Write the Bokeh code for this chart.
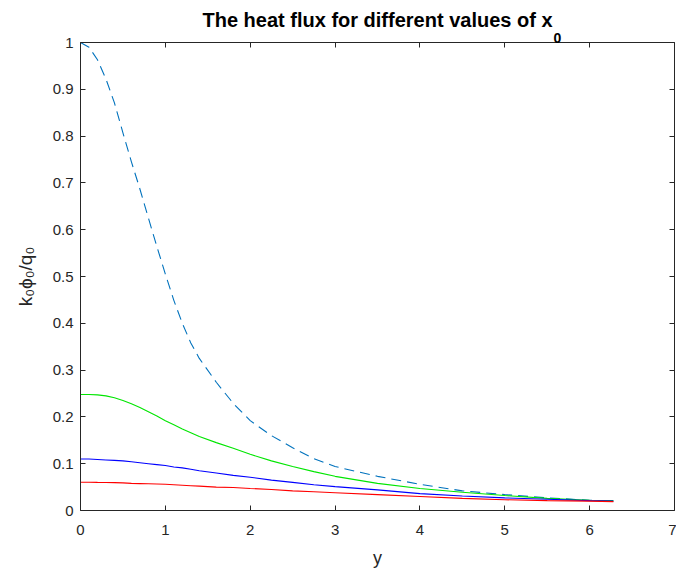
from bokeh.plotting import figure
from bokeh.models import LinearAxis, FixedTicker, Range1d, Title
from bokeh.embed import file_html
from bokeh.resources import INLINE

# y positions along the boundary
y_pos = [0, 0.1, 0.2, 0.3, 0.4, 0.5, 0.6, 0.7, 0.8, 0.9, 1.0, 1.1, 1.2, 1.3, 1.4,
         1.6, 1.8, 2.0, 2.25, 2.5, 2.75, 3.0, 3.5, 4.0, 4.5, 5.0, 5.5, 6.0, 6.28]

# heat flux curves for different x0
flux_dashed = [1.0, 0.99, 0.963, 0.922, 0.871, 0.807, 0.745, 0.687, 0.625, 0.564,
               0.505, 0.449, 0.400, 0.358, 0.325, 0.274, 0.229, 0.192, 0.160,
               0.134, 0.111, 0.094, 0.073, 0.056, 0.042, 0.034, 0.027, 0.022, 0.020]
flux_green = [0.248, 0.248, 0.247, 0.245, 0.241, 0.235, 0.228, 0.220, 0.211, 0.202,
              0.192, 0.183, 0.174, 0.166, 0.158, 0.145, 0.133, 0.120, 0.106,
              0.094, 0.083, 0.073, 0.058, 0.047, 0.039, 0.032, 0.026, 0.022, 0.021]
flux_blue = [0.110, 0.110, 0.109, 0.108, 0.107, 0.106, 0.104, 0.102, 0.100, 0.098,
             0.096, 0.093, 0.091, 0.088, 0.085, 0.080, 0.075, 0.071, 0.065,
             0.060, 0.055, 0.051, 0.044, 0.036, 0.031, 0.027, 0.024, 0.021, 0.020]
flux_red = [0.0605, 0.0605, 0.060, 0.0598, 0.0595, 0.059, 0.058, 0.0575, 0.057, 0.0565,
            0.056, 0.055, 0.054, 0.053, 0.052, 0.050, 0.049, 0.047, 0.045,
            0.042, 0.040, 0.038, 0.034, 0.030, 0.026, 0.023, 0.021, 0.020, 0.019]

x_ticks = [0, 1, 2, 3, 4, 5, 6, 7]
y_ticks = [0, 0.1, 0.2, 0.3, 0.4, 0.5, 0.6, 0.7, 0.8, 0.9, 1]
y_tick_labels = ["0", "0.1", "0.2", "0.3", "0.4", "0.5", "0.6", "0.7", "0.8", "0.9", "1"]

title_main = "The heat flux for different values of x"
title_sub = "0"

FONT = "Liberation Sans"
AX = "#262626"

p = figure(width=676, height=572, output_backend="svg", toolbar_location=None,
           x_range=Range1d(0, 7), y_range=Range1d(0, 1),
           min_border_left=80, min_border_right=2, min_border_top=42,
           min_border_bottom=62, title=None)
p.background_fill_color = "white"
p.border_fill_color = "white"
p.outline_line_color = None
p.grid.visible = False

def style_axis(ax):
    ax.axis_line_color = AX
    ax.axis_line_width = 1
    ax.major_tick_line_color = AX
    ax.major_tick_in = 5
    ax.major_tick_out = 0
    ax.minor_tick_line_color = None
    ax.major_label_text_font = FONT
    ax.major_label_text_font_size = "15px"
    ax.major_label_text_color = AX

xa = p.xaxis[0]
xa.ticker = FixedTicker(ticks=x_ticks)
style_axis(xa)
xa.major_label_standoff = 14
xa.axis_label = "y"
xa.axis_label_text_font = FONT
xa.axis_label_text_font_size = "18px"
xa.axis_label_text_font_style = "normal"
xa.axis_label_text_color = AX
xa.axis_label_standoff = 10

ya = p.yaxis[0]
ya.ticker = FixedTicker(ticks=y_ticks)
ya.major_label_overrides = {t: s for t, s in zip(y_ticks, y_tick_labels)}
style_axis(ya)
ya.major_label_standoff = 7
ya.axis_label = "k\u2080\u03d5\u2080/q\u2080"
ya.axis_label_text_font = FONT
ya.axis_label_text_font_size = "19px"
ya.axis_label_text_font_style = "normal"
ya.axis_label_text_color = AX
ya.axis_label_standoff = 14

top = LinearAxis(ticker=FixedTicker(ticks=x_ticks))
style_axis(top)
top.major_label_text_alpha = 0
top.major_label_text_font_size = "1px"
top.major_label_standoff = 0
p.add_layout(top, "above")

right = LinearAxis(ticker=FixedTicker(ticks=y_ticks))
style_axis(right)
right.major_label_text_alpha = 0
right.major_label_text_font_size = "1px"
right.major_label_standoff = 0
p.add_layout(right, "right")

# title with a lowered subscript: the subscript row sits just above the frame
p.add_layout(Title(text=title_sub, align="left", offset=473, standoff=0,
                   text_font=FONT, text_font_size="14px", text_font_style="bold",
                   text_color="#000000"), "above")
p.add_layout(Title(text=title_main, align="center", offset=0, standoff=0,
                   text_font=FONT, text_font_size="20px", text_font_style="bold",
                   text_color="#000000"), "above")

p.line(y_pos, flux_dashed, line_color="#0072BD", line_width=1.1, line_dash="10 6")
p.line(y_pos, flux_green, line_color="#00e600", line_width=1.1)
p.line(y_pos, flux_blue, line_color="#0000ff", line_width=1.1)
p.line(y_pos, flux_red, line_color="#ff0000", line_width=1.1)

open("out.html", "w").write(file_html(p, INLINE))
